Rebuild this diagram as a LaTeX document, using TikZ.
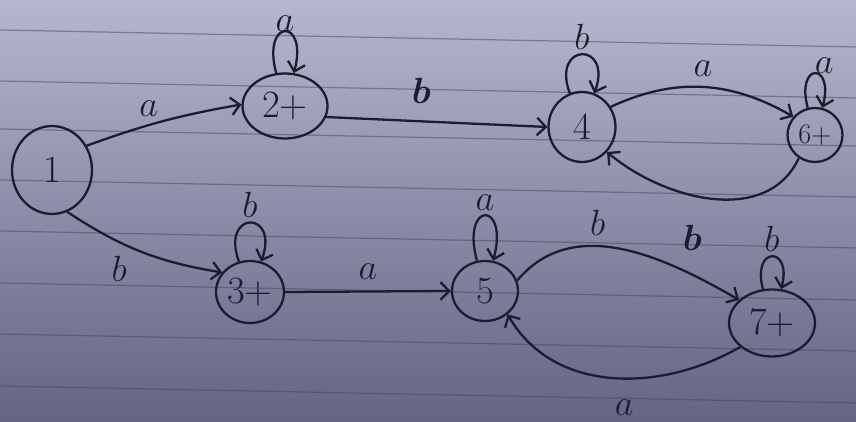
\documentclass[tikz,border=0pt]{standalone}
\usepackage{amsmath}
\usetikzlibrary{arrows.meta,shapes.geometric}
\definecolor{ink}{RGB}{28,28,46}
\definecolor{paperTop}{RGB}{182,182,206}
\definecolor{paperBot}{RGB}{100,100,132}
\definecolor{rule}{RGB}{70,70,98}

\begin{document}
\begin{tikzpicture}[x=0.02cm, y=-0.02cm,
	state/.style={draw=ink, line width=1.3pt, ellipse, inner sep=0pt, text=ink, font=\fontsize{22}{24}\selectfont},
	trans/.style={draw=ink, line width=1.3pt, -{Straight Barb[length=5pt,width=10pt]}},
	lbl/.style={text=ink, font=\fontsize{20}{22}\selectfont},
	loopsize/.style={min distance=#1, max distance=#1},
	every loop/.style={looseness=1, in=70, out=110, loopsize=11mm}]
	\useasboundingbox (0,0) rectangle (856,422);
	\clip (0,0) rectangle (856,422);
	\shade[top color=paperTop, bottom color=paperBot] (0,0) rectangle (856,422);
	\foreach \y in {30,81,129,180,231,283,334,386} {\draw[rule, line width=0.7pt, opacity=0.5] (0,\y) -- (856,\y+17);}
	% states
	\node[state, minimum width=1.6cm, minimum height=1.76cm] (s1) at (52,170) {1};
	\node[state, minimum width=1.7cm, minimum height=1.3cm] (s2) at (285,106) {2+};
	\node[state, minimum width=1.36cm, minimum height=1.24cm] (s3) at (250,292) {3+};
	\node[state, minimum width=1.34cm, minimum height=1.4cm] (s4) at (582,127) {4};
	\node[state, minimum width=1.32cm, minimum height=1.2cm] (s5) at (485,291) {5};
	\node[state, minimum width=1.1cm, minimum height=1.08cm, font=\fontsize{16}{18}\selectfont] (s6) at (815,135) {6+};
	\node[state, minimum width=1.72cm, minimum height=1.34cm] (s7) at (772,323) {7+};
	% transitions
	\draw[trans] (s1.35) to[bend left=5] node[lbl, above=1pt, pos=0.4] {$a$} (s2.178);
	\draw[trans] (s1.290) to[bend right=12] node[lbl, below left=0pt, pos=0.45] {$b$} (s3.145);
	\draw[trans] (s2.-15) -- node[lbl, above=6pt, pos=0.43] {$\boldsymbol{b}$} (s4.west);
	\draw[trans] (s3.east) -- node[lbl, above=3pt, pos=0.5] {$a$} (s5.west);
	\draw[trans] (s4.35) to[out=25, in=150] node[lbl, above=2pt, pos=0.5] {$a$} (s6.140);
	\draw[trans] (s6.235) to[out=-115, in=-40] (s4.-45);
	\draw[trans] (s5.18) to[out=50, in=150] node[lbl, above=2pt, pos=0.4] {$b$} node[lbl, above=10pt, pos=0.8] {$\boldsymbol{b}$} (s7.145);
	\draw[trans] (s7.217) to[out=-150, in=-60] node[lbl, below=8pt, pos=0.45] {$a$} (s5.-46);
	% loops
	\draw[trans] (s2) edge[loop above, loopsize=11.5mm] node[lbl, above=-4pt] {$a$} (s2);
	\draw[trans] (s3) edge[loop above] node[lbl, above=-1pt] {$b$} (s3);
	\draw[trans] (s4) edge[loop above] node[lbl, above=-1pt] {$b$} (s4);
	\draw[trans] (s5) edge[loop above, loopsize=12.5mm] node[lbl, above=-1pt] {$a$} (s5);
	\draw[trans] (s6) edge[loop above, loopsize=9.5mm] node[lbl, above right=-4pt] {$a$} (s6);
	\draw[trans] (s7) edge[loop above, loopsize=9mm] node[lbl, above=-1pt] {$b$} (s7);
\end{tikzpicture}
\end{document}
